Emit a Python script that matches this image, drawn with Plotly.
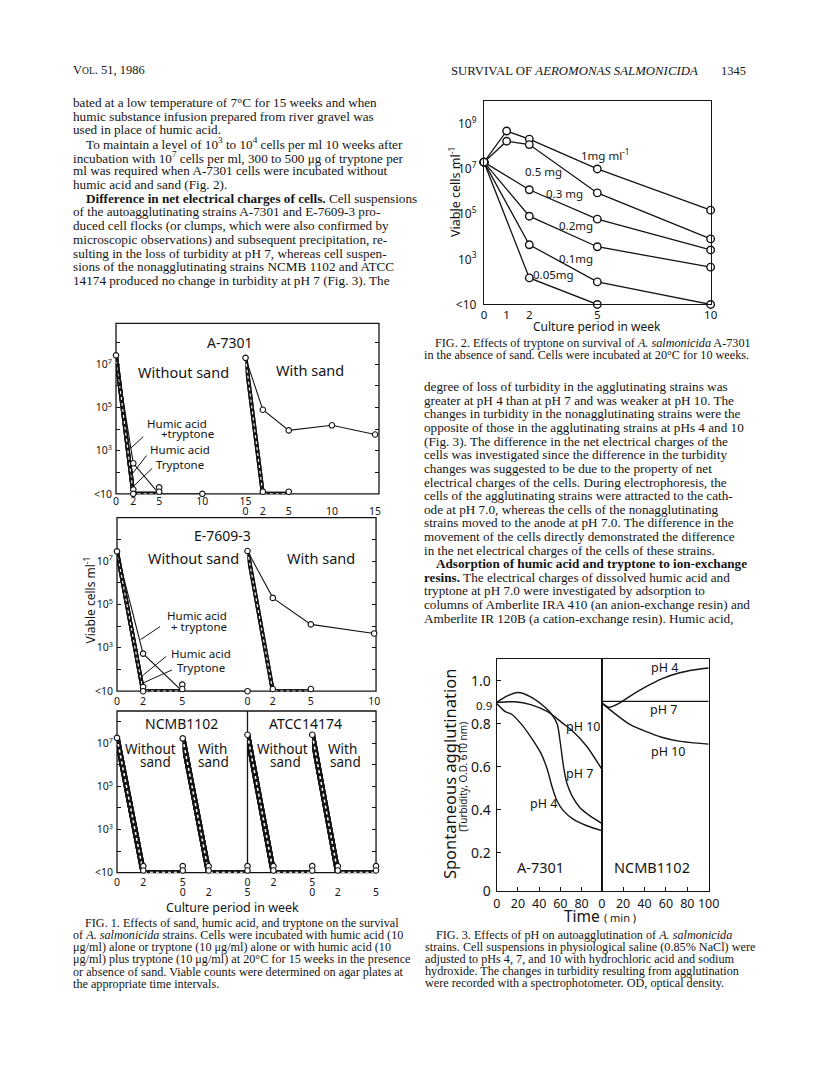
import plotly.graph_objects as go

W, H = 816, 1081
PAD = 8  # the page body keeps its default 8px margin round the figure
SERIF = "Liberation Serif, Times New Roman, serif"
SANS = "Noto Sans, Lato, sans-serif"
INK = "#141414"
LOD = 10  # counts under the detection limit are plotted at "<10"

# ---------------- FIG. 1 data: viable cells per ml by week ----------------
a_nosand_weeks = [0, 2, 5, 10]
a_nosand_control = [2.6e7, LOD, LOD, None]
a_nosand_humic = [2.6e7, LOD, LOD, None]
a_nosand_tryptone = [2.6e7, LOD, LOD, None]
a_nosand_humic_tryp = [2.6e7, 2.6e2, LOD, LOD]
a_sand_weeks = [0, 2, 5, 10, 15]
a_sand_humic = [2.0e7, LOD, LOD, None, None]
a_sand_tryptone = [2.0e7, LOD, LOD, None, None]
a_sand_humic_tryp = [2.0e7, 7.9e4, 8.7e3, 1.5e4, 5.6e3]

e_nosand_weeks = [0, 2, 5, 10]
e_nosand_control = [2.8e7, LOD, LOD, None]
e_nosand_humic = [2.8e7, LOD, LOD, None]
e_nosand_tryptone = [2.8e7, LOD, LOD, None]
e_nosand_humic_tryp = [2.8e7, 5.4e2, LOD, LOD]
e_sand_weeks = [0, 2, 5, 10]
e_sand_humic = [2.9e7, LOD, LOD, None]
e_sand_tryptone = [2.9e7, LOD, LOD, None]
e_sand_humic_tryp = [2.9e7, 2.0e5, 1.2e4, 4.6e3]

short_weeks = [0, 2, 5]
ncmb_nosand = [1.8e7, LOD, LOD]   # same for all four treatments
ncmb_sand = [1.7e7, LOD, LOD]
atcc_nosand = [2.5e7, LOD, LOD]
atcc_sand = [2.5e7, LOD, LOD]

f1_decades = [10, 1e2, 1e3, 1e4, 1e5, 1e6, 1e7, 1e8]
f1_decade_text = ["&lt;10", "", "10<sup>3</sup>", "", "10<sup>5</sup>", "", "10<sup>7</sup>", ""]

# ---------------- FIG. 2 data: tryptone dose, A-7301 without sand ----------------
f2_weeks = [0, 1, 2, 5, 10]
f2_1mg = [2.0e7, 4.8e8, 2.1e8, 1.0e7, 1.5e5]
f2_05mg = [2.0e7, 1.7e8, 1.2e8, 8.7e5, 8.0e3]
f2_03mg = [2.0e7, None, 1.2e6, 6.0e4, 2.6e3]
f2_02mg = [2.0e7, None, 8.1e4, 3.6e3, 4.5e2]
f2_01mg = [2.0e7, None, 4.4e3, 1.0e2, LOD]
f2_005mg = [2.0e7, None, 1.5e2, LOD, None]
f2_dose_labels = ["1mg ml<sup>-1</sup>", "0.5 mg", "0.3 mg", "0.2mg", "0.1mg", "0.05mg"]
f2_decades = [10, 1e3, 1e5, 1e7, 1e9]
f2_decade_text = ["&lt;10", "10<sup>3</sup>", "10<sup>5</sup>", "10<sup>7</sup>", "10<sup>9</sup>"]

# ---------------- FIG. 3 data: turbidity (OD 610 nm) vs minutes ----------------
a7301_t4 = [0, 8, 14, 23, 32, 41.5, 47.7, 52, 57, 63, 72, 85, 99]
a7301_ph4 = [0.895, 0.857, 0.845, 0.80, 0.74, 0.665, 0.588, 0.51, 0.44, 0.395, 0.357, 0.326, 0.303]
a7301_t7 = [0, 10, 20, 32, 45, 51, 57, 60, 63, 66, 71, 78.5, 88, 99]
a7301_ph7 = [0.90, 0.93, 0.946, 0.926, 0.88, 0.85, 0.80, 0.71, 0.60, 0.526, 0.465, 0.41, 0.372, 0.337]
a7301_t10 = [0, 17, 32, 48, 63, 72, 85, 99]
a7301_ph10 = [0.90, 0.903, 0.89, 0.857, 0.80, 0.765, 0.695, 0.59]
ncmb_t4 = [0, 7, 16, 25.5, 41, 56, 72, 87, 100]
ncmb_ph4 = [0.898, 0.877, 0.895, 0.926, 0.972, 1.01, 1.037, 1.052, 1.06]
ncmb_t7 = [0, 100]
ncmb_ph7 = [0.905, 0.905]
ncmb_t10 = [0, 10, 25.5, 41, 56, 72, 100]
ncmb_ph10 = [0.898, 0.857, 0.80, 0.765, 0.738, 0.72, 0.706]
f3_ticks = [0.02, 0.2, 0.4, 0.6, 0.8, 0.9, 1.0]
f3_tick_text = ["0", "0.2", "0.4", "0.6", "0.8", "", "1.0"]

# ---------------- page text ----------------
left_col = [
    (0, "bated at a low temperature of 7°C for 15 weeks and when"),
    (0, "humic substance infusion prepared from river gravel was"),
    (0, "used in place of humic acid."),
    (1, "To maintain a level of 10<sup>3</sup> to 10<sup>4</sup> cells per ml 10 weeks after"),
    (0, "incubation with 10<sup>7</sup> cells per ml, 300 to 500 μg of tryptone per"),
    (0, "ml was required when A-7301 cells were incubated without"),
    (0, "humic acid and sand (Fig. 2)."),
    (1, "<b>Difference in net electrical charges of cells.</b> Cell suspensions"),
    (0, "of the autoagglutinating strains A-7301 and E-7609-3 pro-"),
    (0, "duced cell flocks (or clumps, which were also confirmed by"),
    (0, "microscopic observations) and subsequent precipitation, re-"),
    (0, "sulting in the loss of turbidity at pH 7, whereas cell suspen-"),
    (0, "sions of the nonagglutinating strains NCMB 1102 and ATCC"),
    (0, "14174 produced no change in turbidity at pH 7 (Fig. 3). The"),
]
right_col = [
    (0, "degree of loss of turbidity in the agglutinating strains was"),
    (0, "greater at pH 4 than at pH 7 and was weaker at pH 10. The"),
    (0, "changes in turbidity in the nonagglutinating strains were the"),
    (0, "opposite of those in the agglutinating strains at pHs 4 and 10"),
    (0, "(Fig. 3). The difference in the net electrical charges of the"),
    (0, "cells was investigated since the difference in the turbidity"),
    (0, "changes was suggested to be due to the property of net"),
    (0, "electrical charges of the cells. During electrophoresis, the"),
    (0, "cells of the agglutinating strains were attracted to the cath-"),
    (0, "ode at pH 7.0, whereas the cells of the nonagglutinating"),
    (0, "strains moved to the anode at pH 7.0. The difference in the"),
    (0, "movement of the cells directly demonstrated the difference"),
    (0, "in the net electrical charges of the cells of these strains."),
    (1, "<b>Adsorption of humic acid and tryptone to ion-exchange</b>"),
    (0, "<b>resins.</b> The electrical charges of dissolved humic acid and"),
    (0, "tryptone at pH 7.0 were investigated by adsorption to"),
    (0, "columns of Amberlite IRA 410 (an anion-exchange resin) and"),
    (0, "Amberlite IR 120B (a cation-exchange resin). Humic acid,"),
]
cap1 = [
    (1, "FIG. 1. Effects of sand, humic acid, and tryptone on the survival"),
    (0, "of <i>A. salmonicida</i> strains. Cells were incubated with humic acid (10"),
    (0, "μg/ml) alone or tryptone (10 μg/ml) alone or with humic acid (10"),
    (0, "μg/ml) plus tryptone (10 μg/ml) at 20°C for 15 weeks in the presence"),
    (0, "or absence of sand. Viable counts were determined on agar plates at"),
    (0, "the appropriate time intervals."),
]
cap2 = [
    (1, "FIG. 2. Effects of tryptone on survival of <i>A. salmonicida</i> A-7301"),
    (0, "in the absence of sand. Cells were incubated at 20°C for 10 weeks."),
]
cap3 = [
    (1, "FIG. 3. Effects of pH on autoagglutination of <i>A. salmonicida</i>"),
    (0, "strains. Cell suspensions in physiological saline (0.85% NaCl) were"),
    (0, "adjusted to pHs 4, 7, and 10 with hydrochloric acid and sodium"),
    (0, "hydroxide. The changes in turbidity resulting from agglutination"),
    (0, "were recorded with a spectrophotometer. OD, optical density."),
]

FW, FH = W - 2 * PAD, H - 2 * PAD


def X(p):
    return (p - PAD) / FW


def Y(p):
    return 1 - (p - PAD) / FH


fig = go.Figure()
annots = []
shapes = []


def note(x, y, s, size=12, family=SANS, anchor="center", angle=0):
    annots.append(dict(x=X(x), y=Y(y), xref="paper", yref="paper", text=s, showarrow=False,
                       font=dict(size=size, family=family, color=INK), xanchor=anchor,
                       yanchor="middle", textangle=angle))


def leader(x0, y0, x1, y1):
    # thin pointer line from a label (x0, y0) to a curve (x1, y1)
    annots.append(dict(x=X(x1), y=Y(y1), xref="paper", yref="paper", text="", showarrow=True,
                       arrowhead=0, arrowwidth=1, arrowcolor=INK, ax=x0 - x1, ay=y0 - y1,
                       standoff=0, startstandoff=0))


def paragraph(lines, x, y0, step, size, indent):
    for i, (ind, s) in enumerate(lines):
        note(x + ind * indent, y0 + i * step, s, size=size, family=SERIF, anchor="left")


def xaxis(name, left, right, rng, anchor, tickvals, size=10.5, standoff=2, **kw):
    d = dict(domain=[X(left), X(right)], range=rng, anchor=anchor, tickvals=tickvals,
             ticks="", showgrid=False, zeroline=False, showline=False, tickangle=0,
             tickfont=dict(family=SANS, size=size, color=INK), ticklabelstandoff=standoff)
    d.update(kw)
    fig.update_layout({name: d})


def yaxis(name, bottom, top, rng, anchor, **kw):
    d = dict(domain=[Y(bottom), Y(top)], range=rng, anchor=anchor, showgrid=False,
             zeroline=False, showline=False, tickfont=dict(family=SANS, size=10.5, color=INK))
    d.update(kw)
    fig.update_layout({name: d})


def draw_segment(xa, ya, weeks, dropped, survivor=None, bar=4.0):
    # heavy hatched lines for treatments that fell below detection, thin line for the survivor
    for vals in dropped:
        fig.add_trace(go.Scatter(x=weeks, y=vals, xaxis=xa, yaxis=ya, mode="lines",
                                 line=dict(color=INK, width=bar), cliponaxis=False, hoverinfo="skip"))
        fig.add_trace(go.Scatter(x=weeks, y=vals, xaxis=xa, yaxis=ya, mode="lines",
                                 line=dict(color="white", width=max(1.0, bar * 0.28), dash="dot"),
                                 cliponaxis=False, hoverinfo="skip"))
    series = list(dropped)
    if survivor is not None:
        fig.add_trace(go.Scatter(x=weeks, y=survivor, xaxis=xa, yaxis=ya, mode="lines",
                                 line=dict(color=INK, width=1.1), cliponaxis=False, hoverinfo="skip"))
        series.append(survivor)
    mx, my = [], []
    for i, w in enumerate(weeks):
        vals = [s[i] for s in series if s[i] is not None]
        low = [v for v in vals if v <= LOD]
        n = len(low)
        for k in range(n):  # "<10" circles are stacked around the floor
            mx.append(w)
            my.append(LOD * 10 ** (0.2 * ((n - 1) / 2 - k)))
        for v in sorted(set(v for v in vals if v > LOD)):
            mx.append(w)
            my.append(v)
    fig.add_trace(go.Scatter(x=mx, y=my, xaxis=xa, yaxis=ya, mode="markers",
                             marker=dict(size=5.5, color="white", line=dict(color=INK, width=1.1)),
                             cliponaxis=False, hoverinfo="skip"))


# ======================= FIG. 2 =======================
xaxis("xaxis", 489, 720, [0, 10], "y", [0, 1, 2, 5, 10], size=11.5, standoff=0,
      showline=True, mirror=True, linecolor=INK, linewidth=1.3)
yaxis("yaxis", 307, 102, [1, 10], "x", type="log", tickvals=f2_decades, ticktext=f2_decade_text,
      ticks="", showline=True, mirror=True, linecolor=INK, linewidth=1.3, ticklabelstandoff=4,
      tickfont=dict(family=SANS, size=12, color=INK))
yaxis("yaxis7", 307, 102, [1, 10], "x", type="log", overlaying="y", side="right",
      tickvals=[1e2, 1e3, 1e4, 1e5, 1e6, 1e7, 1e8, 1e9], ticks="inside", ticklen=5,
      tickcolor=INK, showticklabels=False)
for vals in [f2_1mg, f2_05mg, f2_03mg, f2_02mg, f2_01mg, f2_005mg]:
    fig.add_trace(go.Scatter(x=f2_weeks, y=vals, mode="lines+markers", connectgaps=True,
                             line=dict(color=INK, width=1.3),
                             marker=dict(size=7.5, color="white", line=dict(color=INK, width=1.4)),
                             cliponaxis=False, hoverinfo="skip"))
for s, (x, y) in zip(f2_dose_labels, [(612, 156), (550, 173), (571, 195), (583, 227), (583, 261), (560, 277)]):
    note(x, y, s, size=11.5)
note(460, 194, "Viable cells ml<sup>-1</sup>", size=12.5, angle=-90)
note(604, 329, "Culture period in week", size=12)

# ======================= FIG. 3 =======================
xaxis("xaxis2", 502, 609, [0, 99], "y2", [0, 20, 40, 60, 80], size=12.5, standoff=0,
      showline=True, mirror=True, linecolor=INK, linewidth=1.3, ticks="inside", ticklen=4, tickcolor=INK)
xaxis("xaxis3", 609, 718, [0, 100], "y3", [0, 20, 40, 60, 80, 100], size=12.5, standoff=0,
      showline=True, mirror=True, linecolor=INK, linewidth=1.3, ticks="inside", ticklen=4, tickcolor=INK)
yaxis("yaxis2", 899, 665, [0.02, 1.10], "x2", tickvals=f3_ticks, ticktext=f3_tick_text,
      ticks="inside", ticklen=4, tickcolor=INK, showline=True, mirror=True, linecolor=INK,
      linewidth=1.3, ticklabelstandoff=2, tickfont=dict(family=SANS, size=14, color=INK))
yaxis("yaxis3", 899, 665, [0.02, 1.10], "x3", showline=True, mirror=True, linecolor=INK,
      linewidth=1.3, showticklabels=False, ticks="")
for t, v, xa, ya in [(a7301_t4, a7301_ph4, "x2", "y2"), (a7301_t7, a7301_ph7, "x2", "y2"),
                     (a7301_t10, a7301_ph10, "x2", "y2"), (ncmb_t4, ncmb_ph4, "x3", "y3"),
                     (ncmb_t7, ncmb_ph7, "x3", "y3"), (ncmb_t10, ncmb_ph10, "x3", "y3")]:
    fig.add_trace(go.Scatter(x=t, y=v, xaxis=xa, yaxis=ya, mode="lines",
                             line=dict(color=INK, width=1.4, shape="spline", smoothing=0.7),
                             hoverinfo="skip"))
note(590, 733, "pH 10", size=12.5)
note(586, 780, "pH 7", size=12.5)
note(550, 810, "pH 4", size=12.5)
note(673, 673, "pH 4", size=12.5)
note(672, 715, "pH 7", size=12.5)
note(677, 758, "pH 10", size=12.5)
note(547, 874, "A-7301", size=14.5)
note(660, 874, "NCMB1102", size=14.5)
note(489, 711, "0.9", size=11.5)
note(454, 780, "Spontaneous agglutination", size=16.5, angle=-90)
note(468, 783, "(Turbidity, O.D. 610 nm)", size=10, angle=-90)
note(607, 924, "Time <span style='font-size:11px'>( min )</span>", size=15.5)

# ======================= FIG. 1 =======================
f1_left = dict(type="log", tickvals=f1_decades, ticktext=f1_decade_text, ticks="inside",
               ticklen=4, tickcolor=INK, ticklabelstandoff=3)
f1_right = dict(type="log", tickvals=f1_decades, ticks="inside", ticklen=4, tickcolor=INK,
                showticklabels=False, side="right")

# A-7301
yaxis("yaxis4", 498, 326, [1, 8.9], "x4", **f1_left)
yaxis("yaxis8", 498, 326, [1, 8.9], "x5", **f1_right)
xaxis("xaxis4", 114, 246, [0, 15], "y4", [0, 2, 5, 10, 15], standoff=0)
xaxis("xaxis5", 246, 382, [0, 15.45], "y8", [0, 2, 5, 10, 15], standoff=10)
draw_segment("x4", "y4", a_nosand_weeks, [a_nosand_control, a_nosand_humic, a_nosand_tryptone],
             a_nosand_humic_tryp)
draw_segment("x5", "y8", a_sand_weeks, [a_sand_humic, a_sand_tryptone], a_sand_humic_tryp)

# E-7609-3
yaxis("yaxis5", 697, 522, [1, 9], "x6", **f1_left)
yaxis("yaxis9", 697, 522, [1, 9], "x7", **f1_right)
xaxis("xaxis6", 115, 248, [0, 10], "y5", [0, 2, 5], standoff=2)
xaxis("xaxis7", 248, 379, [0, 10.15], "y9", [0, 2, 5, 10], standoff=2)
draw_segment("x6", "y5", e_nosand_weeks, [e_nosand_control, e_nosand_humic, e_nosand_tryptone],
             e_nosand_humic_tryp)
draw_segment("x7", "y9", e_sand_weeks, [e_sand_humic, e_sand_tryptone], e_sand_humic_tryp)

# NCMB1102 | ATCC14174
yaxis("yaxis6", 880, 717, [1, 8.5], "x8", **f1_left)
yaxis("yaxis10", 880, 717, [1, 8.5], "x11", **f1_right)
xaxis("xaxis8", 115, 182, [0, 5], "y6", [0, 2, 5], standoff=2)
xaxis("xaxis9", 182, 248, [0, 5], "y6", [0, 2, 5], standoff=12)
xaxis("xaxis10", 248, 314, [0, 5], "y6", [0, 2, 5], standoff=2)
xaxis("xaxis11", 314, 379, [0, 5], "y10", [0, 2, 5], standoff=12)
for xa, ya, vals in [("x8", "y6", ncmb_nosand), ("x9", "y6", ncmb_sand),
                     ("x10", "y6", atcc_nosand), ("x11", "y10", atcc_sand)]:
    draw_segment(xa, ya, short_weeks, [vals] * 4, bar=5.5)

for x0, y0, x1, y1 in [(114, 326, 382, 498), (115, 522, 379, 697), (115, 717, 379, 880)]:
    shapes.append(dict(type="rect", xref="paper", yref="paper", x0=X(x0), x1=X(x1), y0=Y(y1),
                       y1=Y(y0), line=dict(color=INK, width=1.3), layer="below"))
shapes.append(dict(type="line", xref="x10 domain", yref="y6 domain", x0=0, x1=0, y0=0, y1=1,
                   line=dict(color=INK, width=1.3), layer="below"))

note(230, 345, "A-7301", size=14)
note(183, 375, "Without sand", size=14.5)
note(312, 373, "With sand", size=14.5)
note(144, 427, "Humic acid", size=11.5, anchor="left")
note(158, 437, "+tryptone", size=11.5, anchor="left")
note(147, 453, "Humic acid", size=11.5, anchor="left")
note(153, 468, "Tryptone", size=11.5, anchor="left")
leader(143, 439, 129, 452)
leader(146, 458, 128, 481)
leader(152, 471, 130, 492)

note(223, 540, "E-7609-3", size=14)
note(193, 563, "Without sand", size=14.5)
note(323, 563, "With sand", size=14.5)
note(164, 621, "Humic acid", size=11.5, anchor="left")
note(168, 632, "+ tryptone", size=11.5, anchor="left")
note(168, 659, "Humic acid", size=11.5, anchor="left")
note(174, 673, "Tryptone", size=11.5, anchor="left")
leader(160, 631, 139, 645)
leader(166, 661, 139, 683)
leader(172, 675, 141, 689)

note(181, 730, "NCMB1102", size=14)
note(307, 730, "ATCC14174", size=14)
for cx, cy, s in [(149, 755, "Without"), (154, 768, "sand"), (212, 755, "With"), (213, 768, "sand"),
                  (284, 755, "Without"), (287, 768, "sand"), (345, 755, "With"), (348, 768, "sand")]:
    note(cx, cy, s, size=13.5)

note(87, 605, "Viable cells ml<sup>-1</sup>", size=12, angle=-90)
note(233, 915, "Culture period in week", size=12.5)

# ======================= page text =======================
note(68, 71, "V<span style='font-size:9.5px'>OL</span>. 51, 1986", size=12.5, family=SERIF, anchor="left")
note(453, 72, "SURVIVAL OF <i>AEROMONAS SALMONICIDA</i>", size=12.8, family=SERIF, anchor="left")
note(758, 72, "1345", size=12.5, family=SERIF, anchor="right")
paragraph(left_col, 68, 103.3, 13.8, 13.2, 13)
paragraph(right_col, 426, 390, 13.72, 13.2, 12)
paragraph(cap1, 68, 931, 12.2, 12.2, 12)
paragraph(cap2, 426, 346, 12.2, 12.2, 11)
paragraph(cap3, 427, 943, 12.0, 12.2, 11)

fig.update_layout(width=FW, height=FH, margin=dict(l=0, r=0, t=0, b=0), showlegend=False,
                  paper_bgcolor="white", plot_bgcolor="rgba(0,0,0,0)",
                  annotations=annots, shapes=shapes)
fig.write_html("out.html")
